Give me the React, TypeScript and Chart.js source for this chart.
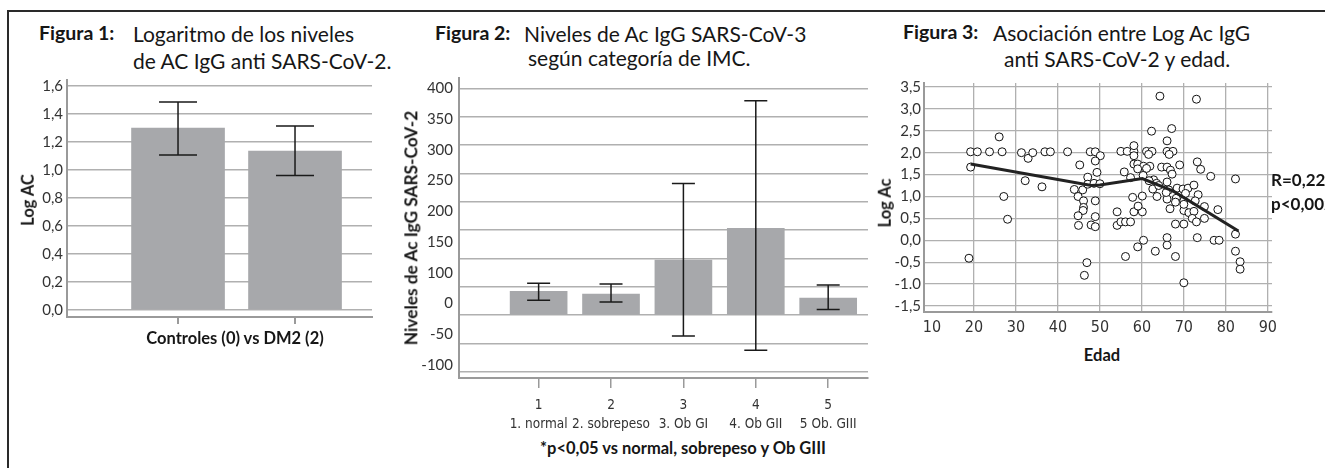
import React, { useEffect, useRef } from 'react';
import { Chart, registerables } from 'chart.js';

Chart.register(...registerables);

// ---------- Figura 1 ----------
const fig1Categories = ['Controles (0)', 'DM2 (2)'];
const fig1X = [0, 1];
const fig1Means = [1.30, 1.136];
const fig1Upper = [1.486, 1.314];
const fig1Lower = [1.107, 0.96];
const fig1YTicks = [0, 0.2, 0.4, 0.6, 0.8, 1.0, 1.2, 1.4, 1.6];
const fig1YLabels = ['0,0', '0,2', '0,4', '0,6', '0,8', '1,0', '1,2', '1,4', '1,6'];

// ---------- Figura 2 ----------
const fig2X = [1, 2, 3, 4, 5];
const fig2Numbers = ['1', '2', '3', '4', '5'];
const fig2Categories = ['1. normal', '2. sobrepeso', '3. Ob GI', '4. Ob GII', '5 Ob. GIII'];
const fig2Means = [42, 37, 97, 153, 30];
const fig2Upper = [56, 55, 232, 378, 53];
const fig2Lower = [26, 23, -37, -62, 10];
const fig2GridValues = [-100, -50, 0, 50, 100, 150, 200, 250, 300, 350, 400];
const fig2TickLabels = ['400', '350', '300', '250', '200', '150', '100', '0', '-50', '-100'];

// ---------- Figura 3 ----------
const fig3Age = [
  19.2, 20.8, 23.7, 26.7, 26.0, 19.2, 18.8, 27.1, 28.0, 31.3,
  32.9, 34.0, 32.2, 36.9, 38.2, 36.2, 42.3, 47.7, 48.9, 50.1,
  45.2, 48.9, 49.3, 47.1, 43.9, 45.9, 47.1, 48.6, 50.0, 44.8,
  46.1, 48.9, 46.1, 46.0, 44.8, 48.9, 44.9, 47.9, 48.9, 46.9,
  46.3, 55.0, 56.5, 58.1, 58.1, 58.1, 61.1, 62.4, 61.6, 66.0,
  67.4, 66.5, 64.3, 73.0, 62.3, 67.1, 66.0, 58.1, 59.0, 60.4,
  61.9, 64.7, 66.0, 66.8, 69.0, 67.2, 73.2, 74.0, 76.4, 82.3,
  59.0, 61.1, 55.8, 57.3, 60.3, 62.8, 63.5, 66.0, 66.4, 68.4,
  69.8, 71.0, 72.4, 73.4, 57.8, 60.1, 63.6, 66.0, 68.2, 70.0,
  74.9, 78.1, 54.1, 58.1, 60.1, 54.1, 55.0, 56.1, 57.3, 60.4,
  59.0, 56.1, 63.2, 66.0, 66.0, 68.0, 70.0, 68.0, 70.0, 73.2,
  77.2, 78.4, 82.3, 82.3, 83.4, 83.4, 70.0, 71.2, 72.4, 72.0,
  73.0, 74.9, 66.7, 68.0, 59.1, 70.0, 72.7, 62.6, 61.7, 70.4,
  65.8, 64.0,
];
const fig3LogAc = [
  2.02, 2.02, 2.02, 2.02, 2.36, 1.67, -0.41, 1.0, 0.48, 2.0,
  1.87, 2.0, 1.36, 2.02, 2.02, 1.22, 2.02, 2.02, 2.02, 1.93,
  1.72, 1.81, 1.55, 1.44, 1.16, 1.15, 1.28, 1.30, 1.29, 1.0,
  0.9, 0.9, 0.75, 0.68, 0.56, 0.54, 0.34, 0.35, 0.31, -0.51,
  -0.8, 2.03, 2.03, 2.03, 2.16, 1.93, 2.03, 2.03, 1.96, 2.03,
  2.03, 1.96, 3.29, 3.22, 2.49, 2.55, 2.27, 1.74, 1.74, 1.69,
  1.69, 1.67, 1.67, 1.60, 1.72, 1.51, 1.79, 1.62, 1.46, 1.40,
  1.63, 1.64, 1.56, 1.43, 1.48, 1.38, 1.30, 1.33, 1.15, 1.19,
  1.17, 1.19, 1.26, 1.04, 0.98, 1.01, 1.0, 0.94, 0.96, 0.90,
  0.77, 0.70, 0.65, 0.65, 0.65, 0.34, 0.42, 0.42, 0.42, 0.0,
  -0.15, -0.37, -0.25, 0.06, -0.11, -0.37, -0.97, 0.37, 0.37, 0.06,
  0.0, 0.0, 0.14, -0.25, -0.49, -0.66, 0.68, 0.63, 0.66, 0.50,
  0.42, 0.50, 0.72, 0.87, 0.78, 0.82, 0.90, 1.17, 1.36, 1.07,
  1.09, 1.25,
];
const fig3FitAge = [19.2, 48, 50, 60.1, 67.5, 83];
const fig3FitLog = [1.74, 1.25, 1.26, 1.41, 1.12, 0.21];
const fig3XTicks = [10, 20, 30, 40, 50, 60, 70, 80, 90];
const fig3XLabels = ['10', '20', '30', '40', '50', '60', '70', '80', '90'];
const fig3YTicks = [-1.5, -1.0, -0.5, 0, 0.5, 1.0, 1.5, 2.0, 2.5, 3.0, 3.5];
const fig3YLabels = ['-1,5', '-1.0', '-0,5', '0,0', '0,5', '1,0', '1,5', '2,0', '2,5', '3,0', '3,5'];

const FONT = 'Lato, "Open Sans", "DejaVu Sans", sans-serif';
const NARROW = '"Liberation Sans Narrow", "DejaVu Sans Condensed", Lato, sans-serif';
const TICK_COLOR = '#333';
const GRID_COLOR = '#b0b0b0';
const AXIS_COLOR = '#9a9a9a';
const BAR_COLOR = '#a7a8ab';

function errorBarPlugin(upper: number[], lower: number[], capHalf: number) {
  return {
    id: 'errorBars',
    afterDatasetsDraw(chart: any) {
      const meta = chart.getDatasetMeta(0);
      const ys = chart.scales.y;
      const ctx = chart.ctx;
      ctx.save();
      ctx.strokeStyle = '#1a1a1a';
      ctx.lineWidth = 1.5;
      meta.data.forEach((el: any, i: number) => {
        const x = el.x;
        const yh = ys.getPixelForValue(upper[i]);
        const yl = ys.getPixelForValue(lower[i]);
        ctx.beginPath();
        ctx.moveTo(x, yh);
        ctx.lineTo(x, yl);
        ctx.moveTo(x - capHalf, yh);
        ctx.lineTo(x + capHalf, yh);
        ctx.moveTo(x - capHalf, yl);
        ctx.lineTo(x + capHalf, yl);
        ctx.stroke();
      });
      ctx.restore();
    },
  };
}

const baseOptions = {
  responsive: false,
  maintainAspectRatio: false,
  animation: false,
  layout: { padding: { top: 16, right: 12, bottom: 0, left: 0 } },
  plugins: { legend: { display: false }, tooltip: { enabled: false }, title: { display: false } },
};

function fig1Config(): any {
  return {
    type: 'bar',
    data: {
      labels: fig1Categories,
      datasets: [
        {
          data: fig1X.map((x, i) => ({ x, y: fig1Means[i] })),
          backgroundColor: BAR_COLOR,
          barThickness: 93,
        },
      ],
    },
    options: {
      ...baseOptions,
      scales: {
        x: {
          type: 'linear',
          min: -0.949,
          max: 1.658,
          offset: false,
          afterBuildTicks: (s: any) => { s.ticks = fig1X.map((v) => ({ value: v })); },
          afterFit: (s: any) => { s.height = 14; },
          ticks: { display: false },
          grid: { offset: false, drawOnChartArea: false, drawTicks: true, tickLength: 7, color: AXIS_COLOR, lineWidth: 2 },
          border: { color: AXIS_COLOR, width: 2 },
        },
        y: {
          type: 'linear',
          min: -0.05,
          max: 1.643,
          afterBuildTicks: (s: any) => { s.ticks = fig1YTicks.map((v) => ({ value: v })); },
          afterFit: (s: any) => { s.width = 47; },
          ticks: { padding: 4, color: TICK_COLOR, font: { size: 15, family: FONT }, callback: (_v: any, i: number) => fig1YLabels[i] },
          grid: { color: GRID_COLOR, lineWidth: 1.5, drawTicks: false },
          border: { color: AXIS_COLOR, width: 2 },
        },
      },
    },
    plugins: [errorBarPlugin(fig1Upper, fig1Lower, 19)],
  };
}

function fig2Config(): any {
  return {
    type: 'bar',
    data: {
      labels: fig2Categories,
      datasets: [
        {
          data: fig2X.map((x, i) => ({ x, y: fig2Means[i] })),
          backgroundColor: BAR_COLOR,
          barThickness: 57,
          xAxisID: 'x',
          yAxisID: 'y',
        },
      ],
    },
    options: {
      ...baseOptions,
      scales: {
        x: {
          type: 'linear',
          min: -0.1,
          max: 5.55,
          offset: false,
          afterBuildTicks: (s: any) => { s.ticks = fig2X.map((v) => ({ value: v })); },
          afterFit: (s: any) => { s.height = 58; },
          ticks: {
            padding: 8,
            color: TICK_COLOR,
            maxRotation: 0,
            autoSkip: false,
            font: { size: 13.5, family: NARROW, lineHeight: '19px' },
            callback: (_v: any, i: number) => [fig2Numbers[i], fig2Categories[i]],
          },
          grid: { offset: false, drawOnChartArea: false, drawTicks: true, tickLength: 10, color: AXIS_COLOR, lineWidth: 1.5 },
          border: { color: AXIS_COLOR, width: 2 },
        },
        y: {
          type: 'linear',
          position: 'left',
          weight: 0,
          min: -111,
          max: 418.2,
          afterBuildTicks: (s: any) => { s.ticks = fig2GridValues.map((v) => ({ value: v })); },
          afterFit: (s: any) => { s.width = 0; },
          ticks: { display: false },
          grid: { color: GRID_COLOR, lineWidth: 1.5, drawTicks: false },
          border: { color: AXIS_COLOR, width: 2 },
        },
        yl: {
          type: 'linear',
          position: 'left',
          weight: 1,
          reverse: true,
          min: -0.335,
          max: 9.424,
          afterBuildTicks: (s: any) => { s.ticks = fig2TickLabels.map((_l, k) => ({ value: k })); },
          afterFit: (s: any) => { s.width = 39; },
          ticks: { padding: 6, color: TICK_COLOR, font: { size: 15, family: FONT }, callback: (_v: any, i: number) => fig2TickLabels[i] },
          grid: { display: false, drawTicks: false },
          border: { display: false },
        },
      },
    },
    plugins: [errorBarPlugin(fig2Upper, fig2Lower, 11.5)],
  };
}

function fig3Config(): any {
  return {
    type: 'scatter',
    data: {
      datasets: [
        {
          type: 'line',
          data: fig3FitAge.map((x, i) => ({ x, y: fig3FitLog[i] })),
          borderColor: '#222',
          borderWidth: 3,
          pointRadius: 0,
          showLine: true,
          fill: false,
          tension: 0,
          order: 0,
        },
        {
          type: 'scatter',
          data: fig3Age.map((x, i) => ({ x, y: fig3LogAc[i] })),
          pointRadius: 4,
          pointBackgroundColor: '#ffffff',
          pointBorderColor: '#111',
          pointBorderWidth: 1,
          order: 1,
        },
      ],
    },
    options: {
      ...baseOptions,
      scales: {
        x: {
          type: 'linear',
          min: 8.09,
          max: 91.0,
          afterBuildTicks: (s: any) => { s.ticks = fig3XTicks.map((v) => ({ value: v })); },
          afterFit: (s: any) => { s.height = 26; },
          ticks: { padding: 6, color: TICK_COLOR, maxRotation: 0, autoSkip: false, font: { size: 16, family: NARROW }, callback: (_v: any, i: number) => fig3XLabels[i] },
          grid: {
            color: (c: any) => (c.tick && c.tick.value === 10 ? 'rgba(0,0,0,0)' : GRID_COLOR),
            lineWidth: 1.3,
            drawTicks: false,
          },
          border: { color: AXIS_COLOR, width: 2 },
        },
        y: {
          type: 'linear',
          min: -1.637,
          max: 3.59,
          afterBuildTicks: (s: any) => { s.ticks = fig3YTicks.map((v) => ({ value: v })); },
          afterFit: (s: any) => { s.width = 40; },
          ticks: { padding: 3, color: TICK_COLOR, font: { size: 15, family: FONT }, callback: (_v: any, i: number) => fig3YLabels[i] },
          grid: { color: GRID_COLOR, lineWidth: 1.3, drawTicks: false },
          border: { color: AXIS_COLOR, width: 2 },
        },
      },
    },
  };
}

function ChartCanvas(props: { make: () => any; left: number; top: number; width: number; height: number }) {
  const ref = useRef<HTMLCanvasElement | null>(null);
  useEffect(() => {
    if (!ref.current) return;
    const chart = new Chart(ref.current, props.make());
    return () => chart.destroy();
  }, []);
  return (
    <canvas
      ref={ref}
      width={props.width}
      height={props.height}
      style={{ position: 'absolute', left: props.left, top: props.top, width: props.width, height: props.height }}
    />
  );
}

function Txt(props: { x: number; y: number; size: number; bold?: boolean; children: React.ReactNode; center?: boolean; rotate?: boolean }) {
  const style: React.CSSProperties = {
    position: 'absolute',
    left: props.x,
    top: props.y,
    fontFamily: FONT,
    fontSize: props.size,
    fontWeight: props.bold ? 700 : 400,
    lineHeight: 1,
    whiteSpace: 'nowrap',
    color: '#161616',
    transform: props.rotate
      ? 'translate(-50%, -50%) rotate(-90deg)'
      : props.center
      ? 'translate(-50%, -50%)'
      : 'translate(0, -50%)',
  };
  return <div style={style}>{props.children}</div>;
}

export default function App() {
  return (
    <div style={{ position: 'fixed', left: 0, top: 0, width: 1325, height: 468, overflow: 'hidden', background: '#fff' }}>
      <div style={{ position: 'absolute', left: 7, top: 10, width: 1400, height: 500, borderLeft: '2px solid #2a2a2a', borderTop: '2px solid #2a2a2a' }} />

      {/* Figura 1 */}
      <Txt x={39} y={33} size={19.5} bold>Figura 1:</Txt>
      <Txt x={133} y={33} size={21}>Logaritmo de los niveles</Txt>
      <Txt x={133} y={60} size={21}>de AC IgG anti SARS-CoV-2.</Txt>
      <ChartCanvas make={fig1Config} left={20} top={64} width={364} height={267} />
      <Txt x={28} y={200} size={16.5} bold rotate>Log AC</Txt>
      <Txt x={235} y={338} size={16.5} bold center>Controles (0) vs DM2 (2)</Txt>

      {/* Figura 2 */}
      <Txt x={435} y={33} size={19.5} bold>Figura 2:</Txt>
      <Txt x={524} y={33} size={21}>Niveles de Ac IgG SARS-CoV-3</Txt>
      <Txt x={528} y={57} size={21}>según categoría de IMC.</Txt>
      <ChartCanvas make={fig2Config} left={420} top={62} width={460} height={374} />
      <Txt x={411} y={228} size={17.3} bold rotate>Niveles de Ac IgG SARS-CoV-2</Txt>
      <Txt x={683} y={448} size={16.5} bold center>*p&lt;0,05 vs normal, sobrepeso y Ob GIII</Txt>

      {/* Figura 3 */}
      <Txt x={903} y={32} size={19.5} bold>Figura 3:</Txt>
      <Txt x={993} y={32} size={21}>Asociación entre Log Ac IgG</Txt>
      <Txt x={1004} y={58} size={21}>anti SARS-CoV-2 y edad.</Txt>
      <ChartCanvas make={fig3Config} left={884} top={67} width={400} height={271} />
      <Txt x={885} y={203} size={16.5} bold rotate>Log Ac</Txt>
      <Txt x={1102} y={355} size={16.5} bold center>Edad</Txt>
      <Txt x={1271} y={179} size={17} bold>R=0,22</Txt>
      <Txt x={1271} y={203} size={17} bold>p&lt;0,002</Txt>
    </div>
  );
}
